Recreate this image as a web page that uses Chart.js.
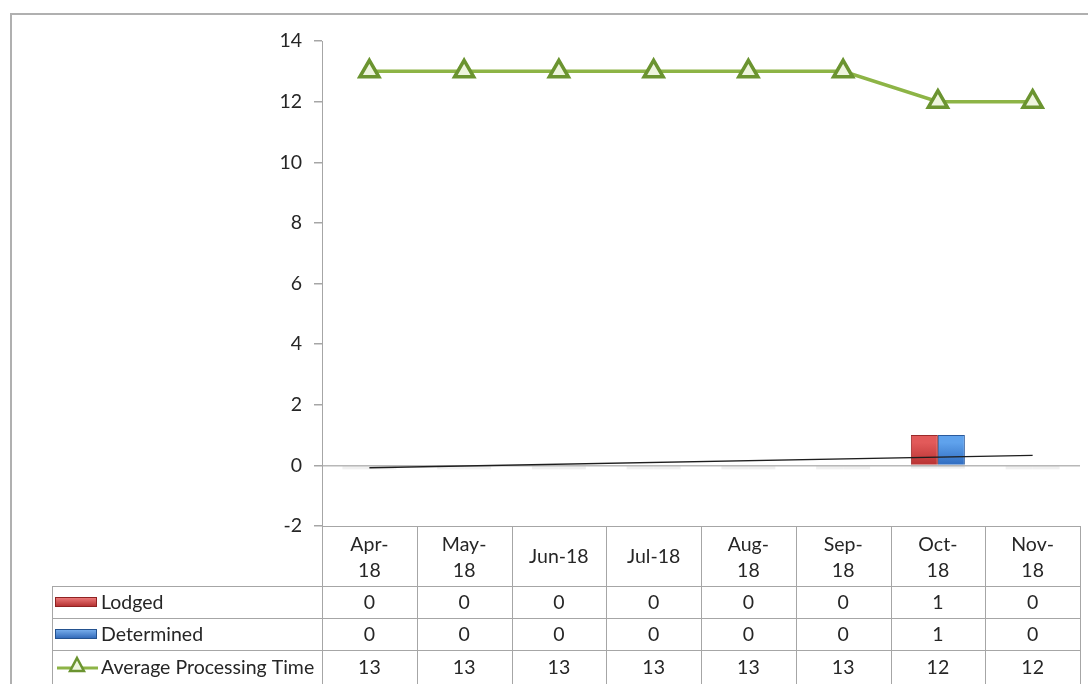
<!DOCTYPE html>
<html>
<head>
<meta charset="utf-8">
<title>Lodged and Determined Applications, Apr-18 to Nov-18</title>
<script src="https://cdn.jsdelivr.net/npm/chart.js@4.4.1/dist/chart.umd.min.js"></script>
<style>
  html, body { margin: 0; padding: 0; background: #ffffff; }
  #wrap { width: 1088px; height: 684px; position: relative; }
</style>
</head>
<body>
<div id="wrap"><canvas id="c" width="1088" height="684"></canvas></div>
<script>
// Monthly figures
const months = ['Apr-18', 'May-18', 'Jun-18', 'Jul-18', 'Aug-18', 'Sep-18', 'Oct-18', 'Nov-18'];
// Header text for the data table (line breaks as shown in each column)
const headerLines = [['Apr-', '18'], ['May-', '18'], ['Jun-18'], ['Jul-18'], ['Aug-', '18'], ['Sep-', '18'], ['Oct-', '18'], ['Nov-', '18']];
const seriesNames = ['Lodged', 'Determined', 'Average Processing Time'];
const lodged = [0, 0, 0, 0, 0, 0, 1, 0];
const determined = [0, 0, 0, 0, 0, 0, 1, 0];
const avgProcessingTime = [13, 13, 13, 13, 13, 13, 12, 12];
// Linear trend line: value at the first and at the last month
const trendEnds = [-0.08, 0.33];
const yTicks = { min: -2, max: 14, step: 2 };

const FONT = 'Lato, "Open Sans", sans-serif';
const FONT_SIZE = 19.5;
const TEXT = '#262626';
const GRID = '#a6a6a6';
const GREEN = '#8db446';
const GREEN_DARK = '#6b9430';

function trendData() {
  return months.map((m, i) => i === 0 ? trendEnds[0] : (i === months.length - 1 ? trendEnds[1] : null));
}

function barGradient(top, bottom) {
  return (ctx) => {
    const chart = ctx.chart;
    const y = chart.scales && chart.scales.y;
    if (!y || !chart.chartArea) return top;
    const g = chart.ctx.createLinearGradient(0, y.getPixelForValue(1), 0, y.getPixelForValue(0));
    g.addColorStop(0, top);
    g.addColorStop(0.25, top);
    g.addColorStop(1, bottom);
    return g;
  };
}

// Outer frame of the chart
const framePlugin = {
  id: 'frame',
  beforeDraw(chart) {
    const c = chart.ctx;
    c.save();
    c.strokeStyle = '#b0b0b0';
    c.lineWidth = 2;
    c.strokeRect(11, 14, 1100, 720);
    c.restore();
  }
};

// Soft shadow under each bar base
const barShadowPlugin = {
  id: 'barShadow',
  beforeDatasetsDraw(chart) {
    const c = chart.ctx;
    c.save();
    c.fillStyle = 'rgba(0,0,0,0.06)';
    chart.data.datasets.forEach((ds, di) => {
      if (ds.type !== 'bar') return;
      const meta = chart.getDatasetMeta(di);
      meta.data.forEach(el => {
        const w = el.width;
        c.fillRect(el.x - w / 2, el.base + 1, w, 3);
      });
    });
    c.restore();
  }
};

// Data table beneath the plot, columns aligned with the category scale
const dataTablePlugin = {
  id: 'dataTable',
  afterDraw(chart) {
    const c = chart.ctx;
    const x = chart.scales.x;
    const area = chart.chartArea;
    const n = months.length;
    const colW = (area.right - area.left) / n;
    const top = area.bottom;           // table top sits on the -2 line
    const rowH = [60, 32, 32, 34];
    const rows = [top];
    rowH.forEach(h => rows.push(rows[rows.length - 1] + h));
    const keyLeft = 52;

    c.save();
    c.strokeStyle = GRID;
    c.lineWidth = 1;
    // horizontal lines
    c.beginPath();
    c.moveTo(area.left, top + 0.5); c.lineTo(area.right, top + 0.5);
    for (let r = 1; r <= 3; r++) {
      c.moveTo(keyLeft, rows[r] + 0.5); c.lineTo(area.right, rows[r] + 0.5);
    }
    // vertical lines
    for (let i = 0; i <= n; i++) {
      const xx = Math.round(area.left + i * colW) + 0.5;
      c.moveTo(xx, top); c.lineTo(xx, 684);
    }
    c.moveTo(keyLeft + 0.5, rows[1]); c.lineTo(keyLeft + 0.5, 684);
    c.stroke();

    c.fillStyle = TEXT;
    c.font = FONT_SIZE + 'px ' + FONT;
    c.textAlign = 'center';
    c.textBaseline = 'middle';
    // header
    months.forEach((m, i) => {
      const cx = x.getPixelForValue(i);
      const lines = headerLines[i];
      if (lines.length === 1) {
        c.fillText(lines[0], cx, top + 31);
      } else {
        c.fillText(lines[0], cx, top + 19);
        c.fillText(lines[1], cx, top + 45);
      }
    });
    // values
    const series = [lodged, determined, avgProcessingTime];
    series.forEach((vals, r) => {
      const cy = (rows[r + 1] + rows[r + 2]) / 2 + 1;
      vals.forEach((v, i) => c.fillText(String(v), x.getPixelForValue(i), cy));
    });

    // row keys
    c.textAlign = 'left';
    const keyCy = [0, 1, 2].map(r => (rows[r + 1] + rows[r + 2]) / 2);
    const swatch = (cy, top, bottom, edge) => {
      const g = c.createLinearGradient(0, cy - 5, 0, cy + 5);
      g.addColorStop(0, top); g.addColorStop(1, bottom);
      c.fillStyle = g;
      c.fillRect(55, cy - 5, 42, 10);
      c.strokeStyle = edge;
      c.strokeRect(55.5, cy - 4.5, 41, 9);
    };
    swatch(keyCy[0], '#f08080', '#b02a2a', '#8f2222');
    swatch(keyCy[1], '#7db3f0', '#2c64b5', '#24528f');
    // line key with triangle marker
    c.strokeStyle = GREEN;
    c.lineWidth = 3;
    c.beginPath();
    c.moveTo(57, keyCy[2] + 1); c.lineTo(98, keyCy[2] + 1);
    c.stroke();
    c.beginPath();
    const tx = 77, ty = keyCy[2] - 1, tr = 8;
    c.moveTo(tx, ty - tr);
    c.lineTo(tx + tr * 0.866, ty + tr * 0.5 + 1);
    c.lineTo(tx - tr * 0.866, ty + tr * 0.5 + 1);
    c.closePath();
    c.fillStyle = '#eef5de';
    c.fill();
    c.strokeStyle = GREEN_DARK;
    c.lineWidth = 2.5;
    c.stroke();

    c.fillStyle = TEXT;
    c.font = FONT_SIZE + 'px ' + FONT;
    seriesNames.forEach((nm, r) => c.fillText(nm, 101, keyCy[r] + 1));
    c.restore();
  }
};

new Chart(document.getElementById('c'), {
  data: {
    labels: months,
    datasets: [
      {
        type: 'line',
        label: seriesNames[2],
        data: avgProcessingTime,
        borderColor: GREEN,
        borderWidth: 3.5,
        backgroundColor: '#eef5de',
        pointStyle: 'triangle',
        pointRadius: 11,
        pointBorderWidth: 3.5,
        pointBorderColor: GREEN_DARK,
        pointBackgroundColor: '#eef5de',
        tension: 0,
        order: 0
      },
      {
        type: 'line',
        label: 'Linear trend',
        data: trendData(),
        spanGaps: true,
        borderColor: '#1e1e1e',
        borderWidth: 1.4,
        pointRadius: 0,
        tension: 0,
        order: 1
      },
      {
        type: 'bar',
        label: seriesNames[0],
        data: lodged,
        backgroundColor: barGradient('#e25a5a', '#b83232'),
        borderColor: '#9a2a2a',
        borderWidth: 1,
        categoryPercentage: 0.57,
        barPercentage: 1.0,
        order: 2
      },
      {
        type: 'bar',
        label: seriesNames[1],
        data: determined,
        backgroundColor: barGradient('#5fa2ec', '#2f6cc0'),
        borderColor: '#2a5a9c',
        borderWidth: 1,
        categoryPercentage: 0.57,
        barPercentage: 1.0,
        order: 2
      }
    ]
  },
  options: {
    responsive: false,
    animation: false,
    layout: { autoPadding: false, padding: { left: 0, right: 8, top: 41, bottom: 158 } },
    plugins: {
      legend: { display: false },
      tooltip: { enabled: false }
    },
    scales: {
      x: {
        display: false,
        offset: true
      },
      y: {
        min: yTicks.min,
        max: yTicks.max,
        afterFit(scale) { scale.width = 322; },
        ticks: {
          stepSize: yTicks.step,
          color: TEXT,
          padding: 12,
          font: { family: FONT, size: FONT_SIZE }
        },
        grid: {
          color: (ctx) => (ctx.tick && ctx.tick.value === 0) ? '#b8b8b8' : 'rgba(0,0,0,0)',
          lineWidth: 1.5,
          tickColor: GRID,
          tickLength: 8,
          drawTicks: true
        },
        border: { color: GRID, width: 1 }
      }
    }
  },
  plugins: [framePlugin, barShadowPlugin, dataTablePlugin]
});
</script>
</body>
</html>
